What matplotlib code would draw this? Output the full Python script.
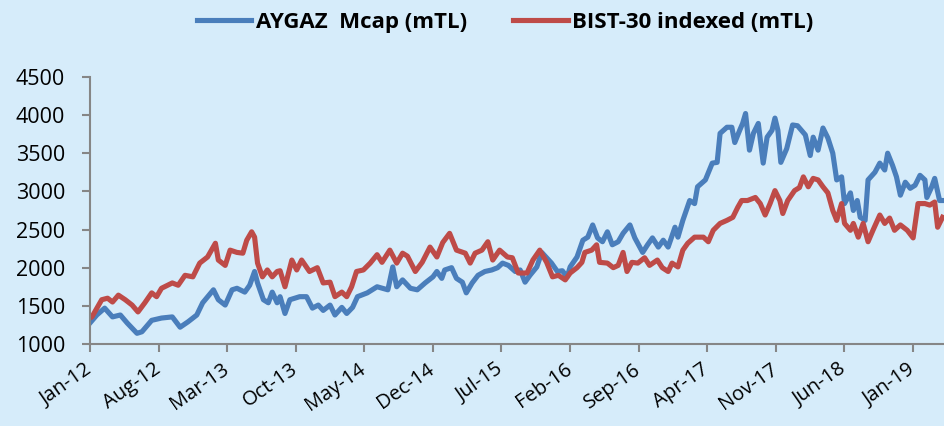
import numpy as np
import pandas as pd
import matplotlib
matplotlib.use("Agg")
import matplotlib.pyplot as plt
import matplotlib.transforms as mtransforms

# x values are months since Jan-2012
aygaz_t = [0.0, 0.7, 1.5, 2.3, 3.1, 3.8, 4.8, 5.3, 6.3, 7.3, 8.4, 9.2, 10.0, 10.9, 11.5, 12.6, 13.1, 13.8,
           14.5, 15.0, 15.8, 16.3, 16.8, 17.1, 17.7, 18.2, 18.6, 19.1, 19.4, 19.9, 20.4, 21.4, 22.1, 22.7,
           23.3, 23.8, 24.5, 25.0, 25.7, 26.2, 26.8, 27.3, 28.3, 29.3, 30.4, 30.9, 31.3, 31.9, 32.7, 33.4,
           34.2, 35.0, 35.4, 35.9, 36.2, 36.9, 37.4, 38.0, 38.4, 39.0, 39.6, 40.3, 41.0, 41.6, 42.1, 42.7,
           43.4, 43.9, 44.4, 44.9, 45.6, 46.1, 46.6, 47.1, 47.7, 48.2, 48.7, 49.0, 49.7, 50.3, 50.8, 51.3,
           51.8, 52.3, 52.8, 53.3, 53.9, 54.4, 55.1, 55.6, 56.4, 56.9, 57.4, 58.0, 58.5, 59.0, 59.7, 60.0,
           60.5, 61.2, 61.7, 62.0, 62.8, 63.5, 64.0, 64.3, 65.0, 65.5, 65.8, 66.3, 66.6, 66.9, 67.3, 67.7,
           68.2, 68.7, 69.1, 69.6, 69.9, 70.2, 70.5, 71.1, 71.7, 72.2, 73.0, 73.5, 73.8, 74.3, 74.8, 75.3,
           75.8, 76.2, 76.7, 77.0, 77.6, 77.9, 78.3, 78.6, 79.1, 79.4, 80.1, 80.6, 81.1, 81.4, 81.9, 82.3,
           82.7, 83.2, 83.7, 84.2, 84.7, 85.2, 85.4, 85.9, 86.2, 86.7, 87.0]
aygaz_v = [1275, 1380, 1470, 1355, 1380, 1275, 1140, 1160, 1310, 1340, 1355, 1220, 1290, 1380, 1540, 1710, 1580, 1510,
           1710, 1730, 1680, 1770, 1950, 1800, 1580, 1540, 1680, 1540, 1620, 1400, 1580, 1620, 1620, 1470,
           1510, 1440, 1510, 1380, 1480, 1400, 1480, 1620, 1670, 1750, 1710, 2010, 1750, 1840, 1730, 1710,
           1800, 1880, 1950, 1860, 1970, 2000, 1860, 1810, 1670, 1800, 1900, 1950, 1970, 2000, 2060, 2030,
           1950, 1970, 1810, 1900, 2010, 2200, 2130, 2060, 1950, 1960, 1880, 2010, 2140, 2360, 2400, 2560,
           2390, 2340, 2470, 2300, 2340, 2450, 2560, 2390, 2200, 2300, 2390, 2270, 2360, 2270, 2530, 2400,
           2620, 2880, 2840, 3060, 3150, 3370, 3380, 3760, 3840, 3840, 3640, 3800, 3890, 4020, 3540, 3760,
           3890, 3370, 3710, 3800, 3960, 3800, 3380, 3560, 3870, 3860, 3740, 3470, 3710, 3540, 3830, 3700,
           3500, 3150, 3190, 2840, 2980, 2750, 2880, 2660, 2620, 3150, 3250, 3370, 3280, 3500, 3340, 3190,
           2950, 3120, 3040, 3080, 3210, 3150, 2920, 3060, 3170, 2880, 2880]

bist_t = [0.0, 0.2, 1.2, 1.8, 2.3, 2.9, 3.6, 4.3, 4.9, 5.6, 6.3, 6.8, 7.3, 8.4, 9.0, 9.7, 10.5, 11.2, 12.0,
          12.8, 13.1, 13.8, 14.3, 15.0, 15.6, 16.0, 16.5, 16.8, 17.1, 17.6, 18.1, 18.6, 19.1, 19.4, 19.9,
          20.6, 21.1, 21.6, 22.4, 23.2, 23.8, 24.5, 25.0, 25.7, 26.2, 26.7, 27.2, 27.9, 28.6, 29.3, 29.8,
          30.6, 31.3, 31.9, 32.4, 33.2, 33.9, 34.7, 35.4, 36.0, 36.7, 37.4, 38.3, 38.8, 39.3, 40.0, 40.6,
          41.1, 41.8, 42.6, 43.1, 43.7, 44.6, 45.2, 45.9, 46.6, 47.2, 47.8, 48.5, 49.0, 49.7, 50.2, 50.5,
          51.2, 51.7, 52.0, 52.8, 53.4, 53.9, 54.4, 54.8, 55.3, 55.9, 56.6, 57.1, 57.9, 58.4, 59.0, 59.4,
          60.0, 60.5, 61.0, 61.7, 62.6, 63.1, 63.6, 64.3, 65.0, 65.6, 66.1, 66.5, 67.1, 67.9, 68.4, 68.9,
          69.4, 69.9, 70.4, 70.7, 71.2, 71.9, 72.4, 72.8, 73.3, 73.8, 74.3, 74.8, 75.3, 75.8, 76.2, 76.7,
          77.0, 77.6, 77.9, 78.4, 78.9, 79.4, 79.9, 80.6, 81.1, 81.6, 82.1, 82.7, 83.4, 84.0, 84.5, 85.2,
          85.7, 86.2, 86.5, 87.0]
bist_v = [1340, 1355, 1580, 1600, 1550, 1640, 1580, 1510, 1420, 1540, 1670, 1620, 1730, 1800, 1770, 1900, 1880, 2060, 2140,
          2320, 2100, 2030, 2230, 2200, 2190, 2360, 2470, 2400, 2060, 1880, 1970, 1880, 1950, 1960, 1750,
          2100, 1970, 2100, 1950, 2000, 1800, 1810, 1620, 1680, 1620, 1750, 1950, 1970, 2060, 2170, 2070,
          2230, 2060, 2190, 2150, 1950, 2070, 2270, 2140, 2330, 2450, 2230, 2190, 2060, 2190, 2230, 2340,
          2100, 2230, 2140, 2130, 1930, 1930, 2100, 2230, 2070, 1880, 1900, 1840, 1930, 2000, 2070, 2200,
          2230, 2300, 2070, 2060, 2000, 2030, 2200, 1950, 2070, 2060, 2130, 2030, 2100, 2000, 1950, 2060,
          2010, 2230, 2320, 2400, 2400, 2340, 2490, 2580, 2620, 2660, 2790, 2880, 2880, 2920, 2840, 2690,
          2840, 3010, 2880, 2710, 2880, 3010, 3050, 3190, 3060, 3170, 3150, 3060, 2980, 2750, 2620, 2840,
          2580, 2490, 2580, 2400, 2580, 2340, 2490, 2690, 2580, 2650, 2490, 2560, 2490, 2390, 2840, 2840,
          2820, 2860, 2530, 2660]

tick_labels = ["Jan-12", "Aug-12", "Mar-13", "Oct-13", "May-14", "Dec-14", "Jul-15",
               "Feb-16", "Sep-16", "Apr-17", "Nov-17", "Jun-18", "Jan-19"]
y_ticks = [1000, 1500, 2000, 2500, 3000, 3500, 4000, 4500]

start = pd.Timestamp("2012-01-01")


def to_dates(months):
    return start + pd.to_timedelta(np.array(months) * 30.4375, unit="D")


bg = "#D6ECFA"
fig = plt.figure(figsize=(9.44, 4.26), dpi=100, facecolor=bg)
ax = fig.add_axes([0.0953, 0.1925, 0.9047, 0.627], facecolor=bg)

l1, = ax.plot(to_dates(aygaz_t), aygaz_v, color="#4A7EBB", lw=3.7, solid_joinstyle="round",
              label="AYGAZ  Mcap (mTL)")
l2, = ax.plot(to_dates(bist_t), bist_v, color="#BE4B48", lw=3.7, solid_joinstyle="round",
              label="BIST-30 indexed (mTL)")

tick_dates = [pd.to_datetime(s, format="%b-%y") for s in tick_labels]
ax.set_xticks(tick_dates)
ax.set_xticklabels(tick_labels, rotation=35, ha="right", va="center", rotation_mode="anchor",
                   fontsize=14.5, family="Open Sans")
shift = mtransforms.ScaledTranslation(5 / 100, 0, fig.dpi_scale_trans)
for lab in ax.get_xticklabels():
    lab.set_transform(lab.get_transform() + shift)
ax.set_xlim(start, start + pd.Timedelta(days=87.15 * 30.4375))
ax.set_ylim(1000, 4500)
ax.set_yticks(y_ticks)
ax.set_yticklabels([str(v) for v in y_ticks], fontsize=15.5, family="Open Sans")

for s in ["top", "right"]:
    ax.spines[s].set_visible(False)
for s in ["left", "bottom"]:
    ax.spines[s].set_color("#868686")
    ax.spines[s].set_linewidth(1.5)
ax.tick_params(axis="both", colors="#868686", labelcolor="black", length=6, width=1.5, direction="out")
ax.tick_params(axis="y", pad=12)
ax.tick_params(axis="x", pad=11)

fig.legend(handles=[l1, l2], loc="center", bbox_to_anchor=(0.535, 0.948), ncol=2, frameon=False,
           prop={"family": "Open Sans", "weight": "bold", "size": 16}, handlelength=2.45,
           handletextpad=0.2, columnspacing=2.1)

fig.savefig("out.png", dpi=100, facecolor=bg)
